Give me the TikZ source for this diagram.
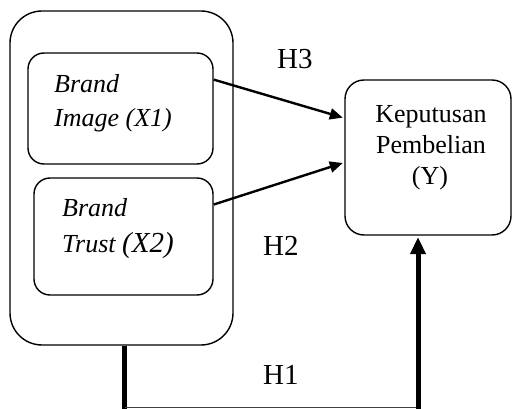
\documentclass[tikz,border=0pt]{standalone}
\usepackage{fontspec}
\setmainfont{Liberation Serif}
\usetikzlibrary{arrows.meta,calc}
\begin{document}
\begin{tikzpicture}[x=1pt,y=-1pt,
  box/.style={draw, line width=1.4pt, rounded corners=#1, inner sep=0pt},
  link/.style={line width=2.4pt, -{Triangle[length=13pt,width=11pt]}},
  bigarrow/.style={line width=5pt, line cap=butt, -{Triangle[length=17pt,width=15pt]}},
  bigline/.style={line width=5pt, line cap=butt},
  thinline/.style={line width=1pt, black!75},
  vartext/.style={font=\fontsize{26}{30}\selectfont\itshape, anchor=base west, inner sep=0pt},
  ytext/.style={font=\fontsize{26}{30}\selectfont, anchor=base, inner sep=0pt},
  hlabel/.style={font=\fontsize{29}{34}\selectfont, anchor=base west, inner sep=0pt},
]
\useasboundingbox (0,0) rectangle (512,409);

% grouping frame and the two independent variables
\node[box=32pt, minimum width=223pt, minimum height=334pt] (outer) at (121.5,178) {};
\node[box=16pt, minimum width=185pt, minimum height=111pt] (img) at (120.5,108.5) {};
\node[box=16pt, minimum width=179pt, minimum height=117pt] (trust) at (123.5,236.5) {};

% dependent variable
\node[box=19pt, minimum width=166pt, minimum height=155pt] (dec) at (428,157.5) {};

% box texts
\node[vartext] (t1a) at (54,93) {Brand};
\node[vartext] (t1b) at (54,127) {Image (X1)};
\node[vartext] (t2a) at (62,217) {Brand};
\node[vartext] (t2b) at (62,253) {Trust {\fontsize{29}{34}\selectfont(X2)}};
\node[ytext] (y1) at (431,123) {Keputusan};
\node[ytext] (y2) at (431,154) {Pembelian};
\node[ytext] (y3) at (430,185) {(Y)};

% hypothesis labels
\node[hlabel] (h3) at (277,69) {H3};
\node[hlabel] (h2) at (263,255) {H2};
\node[hlabel] (h1) at (263,384) {H1};

% partial effects
\draw[link] ($(img.north east)!0.243!(img.south east)$) -- ($(dec.north west)!0.245!(dec.south west)+(-1.5,0)$);
\draw[link] ($(trust.north east)!0.23!(trust.south east)$) -- ($(dec.north west)!0.535!(dec.south west)+(-1.5,0)$);

% simultaneous effect
\coordinate (cornerL) at (124.5,407);
\coordinate (cornerR) at (418,407);
\draw[bigline] (outer.south -| cornerL) -- ($(cornerL)+(0,3)$);
\draw[thinline] (cornerL) -- (cornerR);
\draw[bigarrow] ($(cornerR)+(0,3)$) -- ($(dec.south -| cornerR)+(0,1.5)$);
\end{tikzpicture}
\end{document}
